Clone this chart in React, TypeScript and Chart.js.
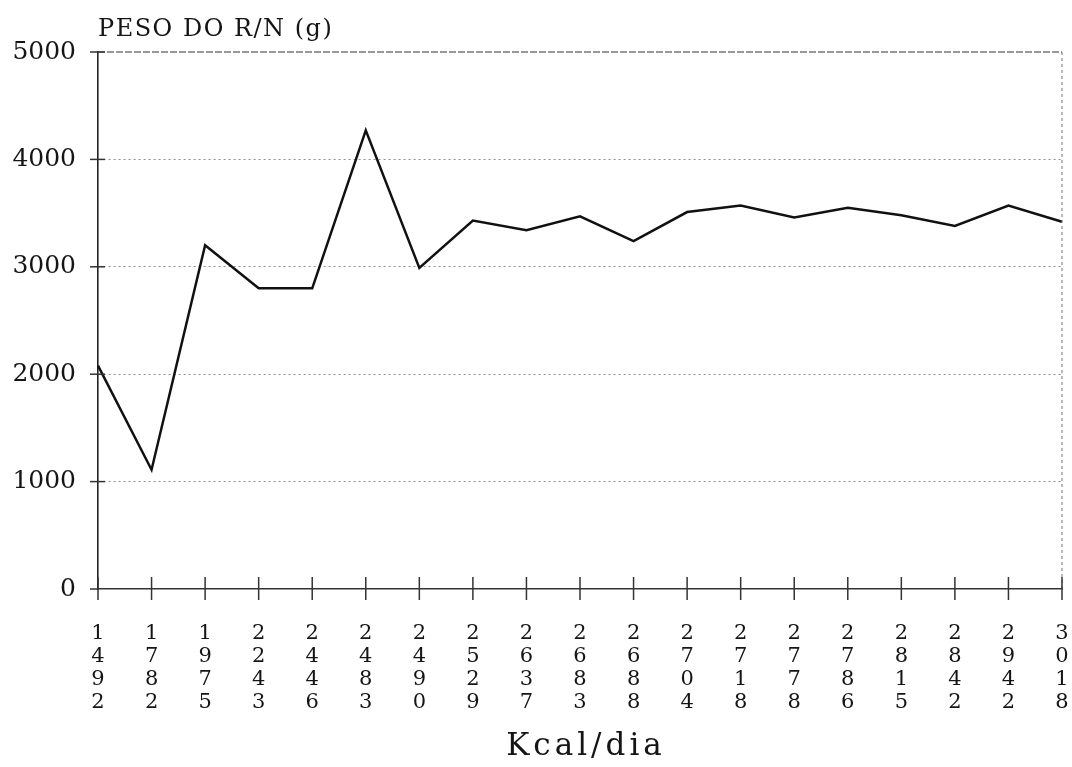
import React, { useEffect, useRef } from "react";
import { Chart, registerables } from "chart.js";

Chart.register(...registerables);

// Data
const kcalPerDay: number[] = [
  1492, 1782, 1975, 2243, 2446, 2483, 2490, 2529, 2637, 2683,
  2688, 2704, 2718, 2778, 2786, 2815, 2842, 2942, 3018,
];
const birthWeight: number[] = [
  2080, 1110, 3200, 2800, 2800, 4270, 2990, 3430, 3340, 3470,
  3240, 3510, 3570, 3460, 3550, 3480, 3380, 3570, 3420,
];
const yTicks: number[] = [0, 1000, 2000, 3000, 4000, 5000];
const yTitle = "PESO DO R/N (g)";
const xTitle = "Kcal/dia";

const FONT = "'DejaVu Serif', 'Liberation Serif', serif";
const INK = "#151515";

const decorPlugin = {
  id: "decor",
  afterDraw(chart: any) {
    const { ctx, chartArea, scales } = chart;
    const x = scales.x;
    const y = scales.y;
    ctx.save();
    // top dashed line at max
    ctx.strokeStyle = "#333";
    ctx.lineWidth = 1.2;
    ctx.setLineDash([7, 2]);
    const yTop = y.getPixelForValue(yTicks[yTicks.length - 1]);
    ctx.beginPath();
    ctx.moveTo(chartArea.left, yTop);
    ctx.lineTo(chartArea.right, yTop);
    ctx.stroke();
    // right dashed border
    ctx.strokeStyle = "#777";
    ctx.lineWidth = 1;
    ctx.setLineDash([3, 3]);
    ctx.beginPath();
    ctx.moveTo(chartArea.right, yTop);
    ctx.lineTo(chartArea.right, chartArea.bottom);
    ctx.stroke();
    ctx.setLineDash([]);
    // y cross ticks
    ctx.strokeStyle = "#333";
    ctx.lineWidth = 1.5;
    yTicks.forEach((v) => {
      const py = y.getPixelForValue(v);
      ctx.beginPath();
      ctx.moveTo(chartArea.left - 8, py);
      ctx.lineTo(chartArea.left + (v === 0 ? 0 : 7), py);
      ctx.stroke();
    });
    // x cross ticks
    kcalPerDay.forEach((_, i) => {
      const px = x.getPixelForValue(i);
      ctx.beginPath();
      ctx.moveTo(px, chartArea.bottom - 12);
      ctx.lineTo(px, chartArea.bottom + 11);
      ctx.stroke();
    });
    // titles
    ctx.fillStyle = INK;
    ctx.textBaseline = "middle";
    ctx.textAlign = "left";
    ctx.font = `24px ${FONT}`;
    (ctx as any).letterSpacing = "1.5px";
    ctx.fillText(yTitle, chartArea.left, 30);
    ctx.font = `31px ${FONT}`;
    (ctx as any).letterSpacing = "4px";
    ctx.textAlign = "center";
    ctx.fillText(xTitle, (chartArea.left + chartArea.right) / 2 + 6, 747);
    ctx.restore();
  },
};

export default function App() {
  const ref = useRef<HTMLCanvasElement | null>(null);

  useEffect(() => {
    document.body.style.margin = "0";
    if (!ref.current) return;
    const chart = new Chart(ref.current, {
      type: "line",
      data: {
        labels: kcalPerDay.map((k) => String(k).split("")),
        datasets: [
          {
            data: birthWeight,
            borderColor: "#111",
            borderWidth: 2.5,
            pointRadius: 0,
            tension: 0,
            fill: false,
          },
        ],
      },
      options: {
        responsive: false,
        animation: false,
        devicePixelRatio: 1,
        layout: { padding: { left: 0, right: 10, top: 52, bottom: 0 } },
        plugins: {
          legend: { display: false },
          tooltip: { enabled: false },
          title: { display: false },
        },
        scales: {
          x: {
            type: "category",
            offset: false,
            grid: { display: false, drawTicks: false },
            border: { display: true, color: "#333", width: 1.5 },
            ticks: {
              autoSkip: false,
              maxRotation: 0,
              minRotation: 0,
              padding: 33,
              color: INK,
              font: { family: FONT, size: 21, lineHeight: "23px" } as any,
            },
            afterFit: (s: any) => {
              s.height = 178;
              s.paddingLeft = 0;
              s.paddingRight = 0;
            },
          },
          y: {
            min: 0,
            max: 5000,
            afterBuildTicks: (s: any) => {
              s.ticks = yTicks.map((v) => ({ value: v }));
            },
            grid: {
              drawTicks: false,
              color: (c: any) =>
                c.tick && (c.tick.value === 0 || c.tick.value === 5000)
                  ? "rgba(0,0,0,0)"
                  : "#8f8f8f",
              lineWidth: 1,
            },
            border: { display: true, color: "#222", width: 1.6, dash: [2, 3] },
            ticks: {
              padding: 22,
              color: INK,
              font: { family: FONT, size: 25 },
              callback: (v: any) => String(v),
            },
            afterFit: (s: any) => {
              s.width = 98;
            },
          },
        },
      },
      plugins: [decorPlugin],
    });
    return () => chart.destroy();
  }, []);

  return (
    <div style={{ position: "fixed", left: 0, top: 0, width: 1072, height: 767, background: "#fff" }}>
      <canvas ref={ref} width={1072} height={767} style={{ width: 1072, height: 767, display: "block" }} />
    </div>
  );
}
